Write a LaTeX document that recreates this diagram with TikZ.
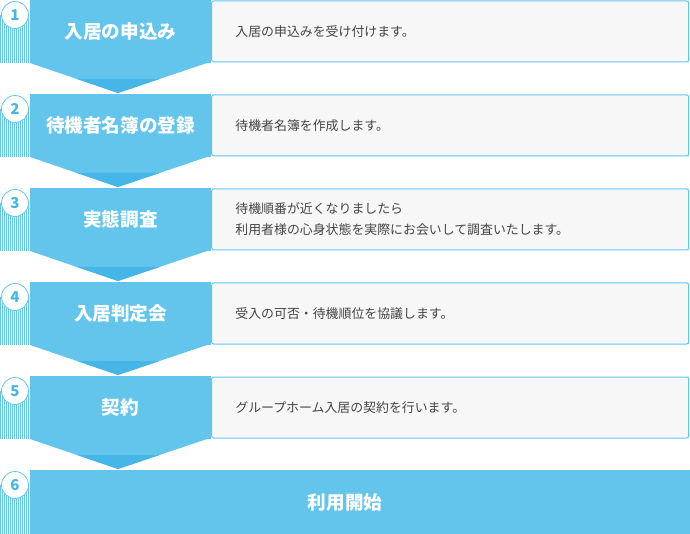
\documentclass[tikz,border=0pt]{standalone}
\usepackage{fontspec}
\setmainfont{Noto Sans CJK JP}
\usepackage{tikz}
\usetikzlibrary{positioning}

\definecolor{flowblue}{HTML}{63C5EC}
\definecolor{flowdark}{HTML}{45B6E7}
\definecolor{flowgray}{HTML}{F7F7F7}
\definecolor{flowtext}{HTML}{444444}

\tikzset{
    titlebox/.style={fill=flowblue, inner sep=0pt, minimum width=181pt, minimum height=63pt,
        text=white, font=\bfseries\fontsize{18.6}{22}\selectfont},
    descbox/.style={fill=flowgray, draw=flowblue, line width=1pt, rounded corners=2pt,
        inner sep=0pt, minimum width=477pt, minimum height=61pt},
    desctext/.style={text=flowtext, font=\fontsize{12.9}{21}\selectfont, align=left, inner sep=0pt},
    numdot/.style={circle, fill=white, draw=flowblue, line width=0.8pt, minimum size=27pt,
        inner sep=0pt, text=flowdark, font=\bfseries\fontsize{15}{15}\selectfont}
}

\begin{document}
\begin{tikzpicture}[x=1pt, y=-1pt]
    \useasboundingbox (0, 0) rectangle (690, 534);

    \foreach \i/\ttl/\txt in {
        1/入居の申込み/入居の申込みを受け付けます。,
        2/待機者名簿の登録/待機者名簿を作成します。,
        3/実態調査/{待機順番が近くなりましたら\\利用者様の心身状態を実際にお会いして調査いたします。},
        4/入居判定会/受入の可否・待機順位を協議します。,
        5/契約/グループホーム入居の契約を行います。} {
        \pgfmathsetmacro{\t}{94*(\i-1)}
        % striped strip left of the box
        \fill[flowblue] (0, \t+15) rectangle (30, \t+63);
        \foreach \x in {1, 3, ..., 29}
            \draw[white, line width=0.8pt] (\x, \t+15) -- (\x, \t+63);
        % arrow head below
        \fill[flowblue] (30, \t+63) -- (207, \t+63) -- (118, \t+93) -- cycle;
        \fill[flowdark] (77, \t+79) -- (159.5, \t+79) -- (118, \t+93) -- cycle;

        \node[titlebox] (box\i) at (120.5, \t+31.5) {\ttl};
        \node[descbox, right=0pt of box\i] (desc\i) {};
        \node[desctext, anchor=west, right=24pt of desc\i.west] (txt\i) {\txt};
        \node[numdot] (num\i) at (15, \t+15) {\i};
    }

    \fill[flowblue] (0, 485) rectangle (30, 534);
    \foreach \x in {1, 3, ..., 29}
        \draw[white, line width=0.8pt] (\x, 485) -- (\x, 534);
    \node[titlebox, minimum width=660pt, minimum height=64pt] (box6) at (360, 502) {};
    \node[titlebox, fill=none, minimum width=0pt, minimum height=0pt] (title6) at (345, 502) {利用開始};
    \node[numdot] (num6) at (15, 485) {6};
\end{tikzpicture}
\end{document}
